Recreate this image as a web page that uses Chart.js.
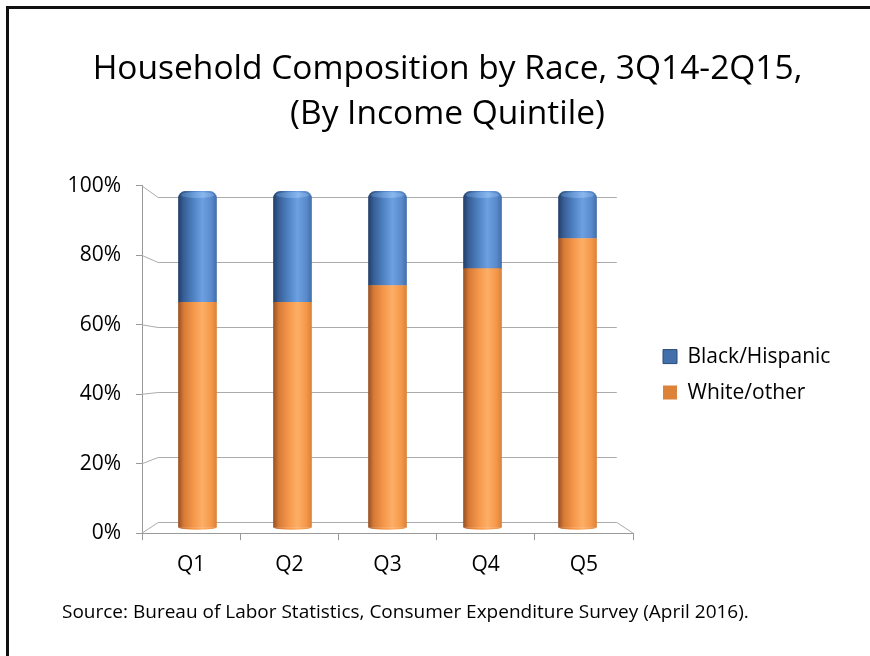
<!DOCTYPE html>
<html>
<head>
<meta charset="utf-8">
<title>Household Composition by Race</title>
<script src="https://cdn.jsdelivr.net/npm/chart.js@4.4.1/dist/chart.umd.min.js"></script>
<style>
  html, body { margin: 0; padding: 0; background: #fff; overflow: hidden; }
  #wrap { position: relative; width: 870px; height: 656px; }
  #frame {
    position: absolute; left: 6px; top: 6px; width: 900px; height: 700px;
    border-left: 3px solid #111; border-top: 3px solid #111;
    pointer-events: none;
  }
</style>
</head>
<body>
<div id="wrap">
  <div id="frame"></div>
  <canvas id="raceChart"></canvas>
</div>
<script>
const quintiles = ['Q1', 'Q2', 'Q3', 'Q4', 'Q5'];
const whiteOther = [67, 67, 72, 77, 86];
const blackHispanic = [33, 33, 28, 23, 14];
const percentTicks = [0, 20, 40, 60, 80, 100];

const titleLines = ['Household Composition by Race, 3Q14-2Q15,', '(By Income Quintile)'];
const sourceNote = 'Source: Bureau of Labor Statistics, Consumer Expenditure Survey (April 2016).';

const BAR_W = 38;
const DEPTH = 0.934;   // back wall scale relative to the front plane

const orangeShade = [[0, '#9a5225'], [0.14, '#d67a36'], [0.4, '#f5984b'], [0.63, '#fdae66'], [0.86, '#f59849'], [1, '#dc8239']];
const blueShade = [[0, '#22406a'], [0.14, '#385f97'], [0.4, '#5083c4'], [0.63, '#6ca0e2'], [0.86, '#5a8bcc'], [1, '#4370ab']];
const capShade = [[0, '#3d659c'], [0.4, '#6b9dda'], [0.65, '#8ab7ee'], [1, '#5f8fcd']];

Chart.defaults.font.family = "'Open Sans', sans-serif";
Chart.defaults.color = '#000';

function cylinderFill(chart, xMid, half, stops) {
  const g = chart.ctx.createLinearGradient(xMid - half, 0, xMid + half, 0);
  stops.forEach(([o, c]) => g.addColorStop(o, c));
  return g;
}

function barFill(solid, shade) {
  return (c) => {
    if (c.type !== 'data' || !c.chart.chartArea) return solid;
    const x = c.chart.scales.xBar.getPixelForValue(c.dataIndex + 1);
    return cylinderFill(c.chart, x, BAR_W / 2, shade);
  };
}

// back wall gridlines and floor edge of the 3D box
const depthWalls = {
  id: 'depthWalls',
  beforeDatasetsDraw(chart) {
    const { ctx, chartArea: a } = chart;
    const y = chart.scales.y;
    const vx = (a.left + a.right) / 2, vy = (a.top + a.bottom) / 2;
    const back = (px, py) => [vx + (px - vx) * DEPTH, vy + (py - vy) * DEPTH];
    ctx.save();
    ctx.strokeStyle = '#ababab';
    ctx.lineWidth = 1;
    percentTicks.forEach(v => {
      const yf = y.getPixelForValue(v);
      const [bl, by] = back(a.left, yf);
      const [br] = back(a.right, yf);
      const yb = Math.round(by) + 0.5;
      ctx.beginPath();
      ctx.moveTo(a.left, yf);
      ctx.lineTo(bl, yb);
      ctx.lineTo(br, yb);
      ctx.stroke();
    });
    const [fx, fy] = back(a.right, a.bottom);
    ctx.beginPath();
    ctx.moveTo(fx, Math.round(fy) + 0.5);
    ctx.lineTo(a.right, a.bottom);
    ctx.stroke();
    ctx.restore();
  }
};

// rounded ends of the cylinders
const cylinderEnds = {
  id: 'cylinderEnds',
  afterDatasetsDraw(chart) {
    const ctx = chart.ctx;
    ctx.save();
    chart.getDatasetMeta(0).data.forEach(bar => {
      ctx.fillStyle = cylinderFill(chart, bar.x, bar.width / 2, orangeShade);
      ctx.beginPath();
      ctx.ellipse(bar.x, bar.base, bar.width / 2, 2.5, 0, 0, Math.PI);
      ctx.fill();
    });
    chart.getDatasetMeta(1).data.forEach(bar => {
      ctx.fillStyle = cylinderFill(chart, bar.x, bar.width / 2, capShade);
      ctx.beginPath();
      ctx.ellipse(bar.x, bar.y + 3.5, bar.width / 2 - 2.5, 3, 0, 0, Math.PI * 2);
      ctx.fill();
    });
    ctx.restore();
  }
};

new Chart(document.getElementById('raceChart'), {
  type: 'bar',
  data: {
    labels: quintiles,
    datasets: [
      {
        label: 'White/other',
        data: whiteOther.map((v, i) => ({ x: i + 1, y: v })),
        backgroundColor: barFill('#f79646', orangeShade),
        borderWidth: 0,
        barThickness: BAR_W,
        xAxisID: 'xBar',
        yAxisID: 'yBar'
      },
      {
        label: 'Black/Hispanic',
        data: blackHispanic.map((v, i) => ({ x: i + 1, y: v })),
        backgroundColor: barFill('#4f81bd', blueShade),
        borderWidth: 0,
        borderRadius: { topLeft: 7, topRight: 7, bottomLeft: 0, bottomRight: 0 },
        barThickness: BAR_W,
        xAxisID: 'xBar',
        yAxisID: 'yBar'
      }
    ]
  },
  options: {
    responsive: true,
    maintainAspectRatio: false,
    animation: false,
    devicePixelRatio: 1,
    layout: { padding: { left: 62, right: 37, top: 0, bottom: 0 } },
    scales: {
      x: {
        type: 'category',
        position: 'bottom',
        offset: true,
        grid: { offset: true, drawOnChartArea: false, tickLength: 7, color: '#999' },
        border: { color: '#999' },
        ticks: { font: { size: 21 }, padding: 12 },
        afterFit: s => { s.height = 45; }
      },
      y: {
        type: 'linear',
        position: 'left',
        min: 0,
        max: 100,
        grid: { drawOnChartArea: false, tickLength: 6, color: '#999' },
        border: { color: '#999' },
        ticks: { font: { size: 21 }, padding: 15, callback: v => v + '%' },
        afterBuildTicks: s => { s.ticks = percentTicks.map(v => ({ value: v })); },
        afterFit: s => { s.width = 80; }
      },
      xBar: {
        type: 'linear',
        display: false,
        offset: false,
        stacked: true,
        min: 0.416,
        max: 5.584
      },
      yBar: {
        type: 'linear',
        position: 'right',
        stacked: true,
        min: -1.783,
        max: 101.63,
        ticks: { display: false },
        grid: { display: false },
        border: { display: false },
        afterFit: s => { s.width = 15; }
      }
    },
    plugins: {
      title: {
        display: true,
        text: titleLines,
        font: { size: 33.5, weight: 'normal', lineHeight: 1.343 },
        color: '#000',
        padding: { top: 47, bottom: 49 }
      },
      subtitle: {
        display: true,
        position: 'bottom',
        align: 'start',
        text: sourceNote,
        font: { size: 19, weight: 'normal', lineHeight: 1.2 },
        color: '#000',
        padding: { top: 23, bottom: 32 }
      },
      legend: {
        position: 'right',
        fullSize: false,
        reverse: true,
        maxWidth: 185,
        title: { display: true, text: '', padding: 0, font: { size: 30, lineHeight: 1 } },
        labels: {
          boxWidth: 14,
          boxHeight: 14,
          padding: 15,
          font: { size: 21 },
          color: '#000',
          generateLabels(chart) {
            const items = Chart.defaults.plugins.legend.labels.generateLabels(chart);
            items.forEach(it => {
              if (it.datasetIndex === 1) { it.strokeStyle = '#2c4d78'; it.lineWidth = 1; }
            });
            return items;
          }
        }
      },
      tooltip: { enabled: false }
    }
  },
  plugins: [depthWalls, cylinderEnds]
});
</script>
</body>
</html>
